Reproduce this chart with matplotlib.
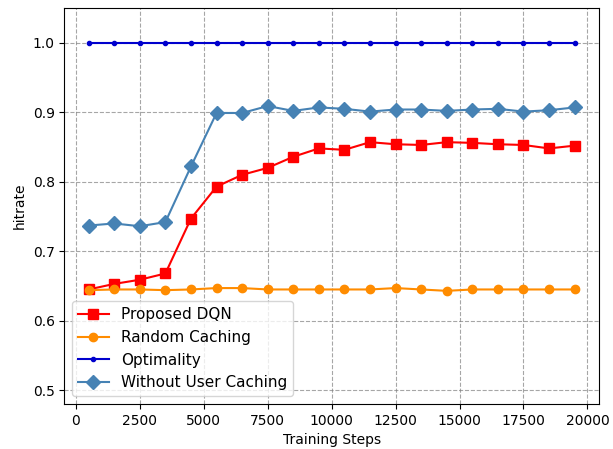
import numpy as np
import matplotlib
matplotlib.use("Agg")
import matplotlib.pyplot as plt

steps = np.arange(500, 20000, 1000)

dqn = [0.645, 0.653, 0.659, 0.668, 0.747, 0.793, 0.810, 0.820, 0.836, 0.848,
       0.846, 0.857, 0.854, 0.853, 0.857, 0.856, 0.854, 0.853, 0.848, 0.852]
random_caching = [0.644, 0.645, 0.645, 0.644, 0.645, 0.647, 0.647, 0.645, 0.645, 0.645,
                  0.645, 0.645, 0.647, 0.645, 0.643, 0.645, 0.645, 0.645, 0.645, 0.645]
optimality = [1.0] * 20
no_user_cache = [0.737, 0.740, 0.736, 0.742, 0.822, 0.899, 0.899, 0.909, 0.902, 0.907,
                 0.905, 0.901, 0.904, 0.904, 0.902, 0.904, 0.905, 0.901, 0.903, 0.907]

fig, ax = plt.subplots(figsize=(6.13, 4.49), dpi=100)

ax.plot(steps, dqn, color='red', marker='s', markersize=7, linewidth=1.5, label='Proposed DQN')
ax.plot(steps, random_caching, color='darkorange', marker='o', markersize=6, linewidth=1.5, label='Random Caching')
ax.plot(steps, optimality, color='mediumblue', marker='.', markersize=6, linewidth=1.5, label='Optimality')
ax.plot(steps, no_user_cache, color='steelblue', marker='D', markersize=7, linewidth=1.5, label='Without User Caching')

ax.set_ylim(0.48, 1.05)
ax.grid(True, linestyle='--', color='gray', alpha=0.7)
ax.set_xlabel('Training Steps')
ax.set_ylabel('hitrate')
ax.legend(loc='lower left', fontsize=11)

fig.subplots_adjust(left=0.105, right=0.977, top=0.982, bottom=0.1)
fig.savefig("out.png", dpi=100)
